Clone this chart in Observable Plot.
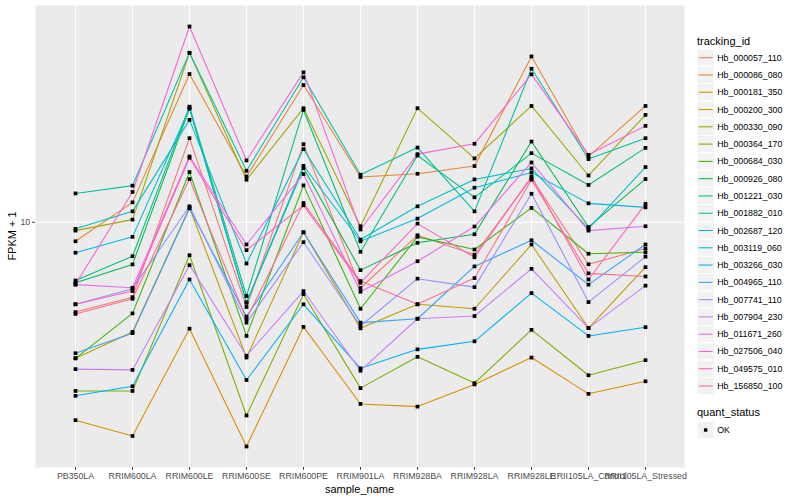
<!DOCTYPE html>
<html><head><meta charset="utf-8">
<script src="https://cdn.jsdelivr.net/npm/d3@7"></script>
<script src="https://cdn.jsdelivr.net/npm/@observablehq/plot@0.6"></script>
<style>
body{margin:0;background:#fff;}
#wrap{position:relative;width:800px;height:500px;}
</style></head><body><div id="wrap"></div>
<script>
const samples = ["PB350LA","RRIM600LA","RRIM600LE","RRIM600SE","RRIM600PE","RRIM901LA","RRIM928BA","RRIM928LA","RRIM928LE","RRII105LA_Control","RRII105LA_Stressed"];
const trackingIds = ["Hb_000057_110","Hb_000086_080","Hb_000181_350","Hb_000200_300","Hb_000330_090","Hb_000364_170","Hb_000684_030","Hb_000926_080","Hb_001221_030","Hb_001882_010","Hb_002687_120","Hb_003119_060","Hb_003266_030","Hb_004965_110","Hb_007741_110","Hb_007904_230","Hb_011671_260","Hb_027506_040","Hb_049575_010","Hb_156850_100"];
const palette = ["#F8766D","#EA8331","#D89000","#C09B00","#A3A500","#7CAE00","#39B600","#00BB4E","#00BF7D","#00C1A3","#00BFC4","#00BAE0","#00B0F6","#35A2FF","#9590FF","#C77CFF","#E76BF3","#FA62DB","#FF62BC","#FF6C91"];

// FPKM + 1 per sample (same order as samples)
const Hb_000057_110 = [5.01, 5.62, 19.11, 5.21, 18.25, 6.03, 9.05, 7.79, 14.06, 7.24, 8.17];
const Hb_000086_080 = [8.64, 11.66, 31.31, 14.23, 28.77, 14.17, 14.53, 15.42, 35.86, 16.60, 24.49];
const Hb_000181_350 = [2.18, 1.93, 4.41, 1.78, 4.47, 2.47, 2.42, 2.87, 3.53, 2.67, 2.94];
const Hb_000200_300 = [3.51, 4.30, 11.19, 3.53, 9.26, 4.42, 5.32, 5.14, 8.43, 4.43, 7.08];
const Hb_000330_090 = [9.38, 10.21, 36.87, 13.88, 24.07, 9.70, 24.07, 16.35, 24.49, 14.34, 22.86];
const Hb_000364_170 = [2.73, 2.73, 7.76, 2.26, 5.75, 2.79, 3.55, 2.90, 4.37, 3.08, 3.46];
const Hb_000684_030 = [3.51, 4.96, 14.72, 4.17, 13.29, 5.14, 8.94, 8.11, 11.17, 7.85, 7.94];
const Hb_000926_080 = [6.28, 7.23, 23.99, 5.39, 15.18, 6.92, 8.54, 9.12, 18.62, 9.65, 13.95];
const Hb_001221_030 = [6.39, 7.70, 24.36, 5.67, 23.75, 7.97, 16.72, 12.12, 17.03, 13.33, 17.74];
const Hb_001882_010 = [12.49, 13.26, 36.87, 14.87, 30.53, 14.42, 17.78, 10.88, 32.62, 16.27, 19.11];
const Hb_002687_120 = [9.51, 10.88, 22.00, 7.28, 17.57, 8.76, 11.31, 13.91, 15.14, 9.53, 15.30];
const Hb_003119_060 = [7.91, 8.94, 24.12, 5.39, 15.45, 8.64, 10.29, 13.05, 14.68, 11.57, 11.22];
const Hb_003266_030 = [2.63, 2.83, 6.44, 2.97, 5.32, 3.25, 3.76, 4.00, 5.80, 4.17, 4.46];
const Hb_004965_110 = [3.65, 4.26, 11.13, 4.84, 9.26, 4.62, 4.76, 7.12, 8.71, 6.19, 8.43];
const Hb_007741_110 = [5.32, 6.00, 11.31, 4.62, 8.58, 4.50, 6.48, 6.07, 12.46, 5.41, 7.68];
const Hb_007904_230 = [3.23, 3.21, 7.19, 3.58, 5.89, 3.19, 4.76, 4.86, 6.99, 4.43, 6.14];
const Hb_011671_260 = [6.19, 6.04, 16.60, 8.43, 14.50, 5.86, 7.41, 9.68, 15.85, 9.38, 9.70];
const Hb_027506_040 = [6.20, 12.63, 45.15, 16.10, 31.72, 9.46, 16.90, 18.30, 31.24, 16.81, 21.01];
const Hb_049575_010 = [5.32, 5.89, 16.43, 8.07, 11.39, 6.28, 9.90, 7.64, 14.23, 6.44, 11.52];
const Hb_156850_100 = [4.94, 5.55, 13.95, 4.74, 11.60, 6.36, 5.32, 6.51, 13.88, 6.75, 6.59];
const yTicks = [10];

const seriesValues = [Hb_000057_110,Hb_000086_080,Hb_000181_350,Hb_000200_300,Hb_000330_090,Hb_000364_170,Hb_000684_030,Hb_000926_080,Hb_001221_030,Hb_001882_010,Hb_002687_120,Hb_003119_060,Hb_003266_030,Hb_004965_110,Hb_007741_110,Hb_007904_230,Hb_011671_260,Hb_027506_040,Hb_049575_010,Hb_156850_100];
const rows = [];
trackingIds.forEach((id, i) => seriesValues[i].forEach((v, j) => rows.push({id, sample: samples[j], fpkm: v})));

const logs = rows.map(d => Math.log10(d.fpkm));
const lo = d3.min(logs), hi = d3.max(logs), pad = (hi - lo) * 0.05;
const FONT = '"Liberation Sans", Arial, Helvetica, sans-serif';

const chart = Plot.plot({
  width: 800, height: 500,
  marginLeft: 35, marginRight: 116, marginTop: 5, marginBottom: 33,
  style: {fontFamily: FONT, background: "white", overflow: "visible"},
  x: {type: "point", domain: samples, padding: 0.6, align: 0.5, label: null},
  y: {type: "log", domain: [10 ** (lo - pad), 10 ** (hi + pad)], label: null},
  color: {domain: trackingIds, range: palette},
  marks: [
    Plot.frame({fill: "#EBEBEB", stroke: "none"}),
    Plot.gridX({stroke: "white", strokeOpacity: 1, strokeWidth: 1.07}),
    Plot.gridY(yTicks, {stroke: "white", strokeOpacity: 1, strokeWidth: 1.07}),
    Plot.line(rows, {x: "sample", y: "fpkm", z: "id", stroke: "id", strokeWidth: 1.07}),
    Plot.dot(rows, {x: "sample", y: "fpkm", symbol: "square", r: 2.1, fill: "black", stroke: "none"}),
    Plot.axisX({tickSize: 2.75, tickPadding: 2.5, stroke: "#333333", fill: "#4D4D4D", fontSize: 8.8, label: null}),
    Plot.axisY(yTicks, {tickSize: 2.75, tickPadding: 2.5, stroke: "#333333", fill: "#4D4D4D", fontSize: 8.8, tickFormat: d => String(d), label: null})
  ]
});
document.getElementById("wrap").appendChild(chart);

// axis titles and legend (ggplot style)
const svg = d3.select(chart);
const g = svg.append("g").attr("font-family", FONT).attr("text-anchor", "start");
g.append("text").attr("x", 359.5).attr("y", 489).attr("text-anchor", "middle").attr("dominant-baseline", "central")
  .attr("font-size", 11).attr("fill", "black").text("sample_name");
g.append("text").attr("transform", "translate(12,236) rotate(-90)").attr("text-anchor", "middle").attr("dominant-baseline", "central")
  .attr("font-size", 11).attr("fill", "black").text("FPKM + 1");

const lx = 697, ky0 = 57.7, kstep = 17.28;
g.append("text").attr("x", lx).attr("y", 40.5).attr("text-anchor", "start").attr("dominant-baseline", "central").attr("font-size", 11).attr("fill", "black").text("tracking_id");
trackingIds.forEach((id, i) => {
  const cy = ky0 + i * kstep;
  g.append("rect").attr("x", lx).attr("y", cy - kstep / 2).attr("width", kstep).attr("height", kstep)
    .attr("fill", "#F2F2F2").attr("stroke", "white").attr("stroke-width", 1);
  g.append("line").attr("x1", lx + 1.7).attr("x2", lx + kstep - 1.7).attr("y1", cy).attr("y2", cy)
    .attr("stroke", palette[i]).attr("stroke-width", 1.07);
  g.append("text").attr("x", lx + kstep + 3).attr("y", cy).attr("text-anchor", "start").attr("dominant-baseline", "central")
    .attr("font-size", 8.8).attr("fill", "black").text(id);
});
g.append("text").attr("x", lx).attr("y", 412).attr("text-anchor", "start").attr("dominant-baseline", "central").attr("font-size", 11).attr("fill", "black").text("quant_status");
g.append("rect").attr("x", lx).attr("y", 430 - kstep / 2).attr("width", kstep).attr("height", kstep).attr("fill", "#F2F2F2").attr("stroke", "white");
g.append("rect").attr("x", lx + kstep / 2 - 1.7).attr("y", 430 - 1.7).attr("width", 3.4).attr("height", 3.4).attr("fill", "black");
g.append("text").attr("x", lx + kstep + 3).attr("y", 430).attr("text-anchor", "start").attr("dominant-baseline", "central").attr("font-size", 8.8).attr("fill", "black").text("OK");
</script></body></html>
